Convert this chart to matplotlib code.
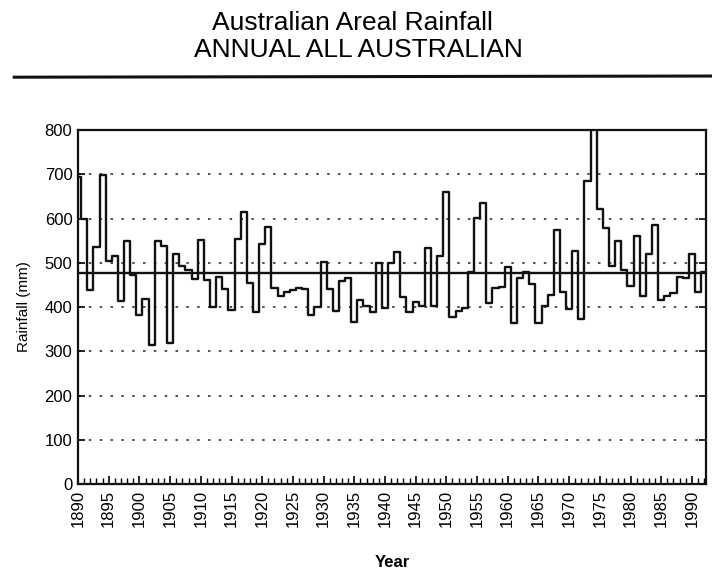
import numpy as np
import matplotlib
matplotlib.use("Agg")
import matplotlib.pyplot as plt
from matplotlib.ticker import MultipleLocator

plt.rcParams['font.family'] = ['Liberation Sans', 'DejaVu Sans']

# annual rainfall (mm)
years = np.arange(1890, 1993)
rain = [
    693, 600, 439, 536, 699, 504, 515, 413, 549, 472,   # 1890s
    383, 417, 314, 550, 538, 318, 519, 492, 484, 463,   # 1900s
    552, 462, 400, 468, 440, 394, 554, 614, 455, 388,   # 1910s
    543, 581, 442, 425, 435, 438, 444, 440, 383, 400,   # 1920s
    502, 440, 390, 458, 465, 367, 416, 403, 388, 500,   # 1930s
    398, 500, 524, 422, 388, 412, 403, 534, 402, 515,   # 1940s
    659, 378, 392, 398, 478, 602, 636, 410, 443, 446,   # 1950s
    491, 364, 466, 479, 451, 363, 403, 428, 575, 434,   # 1960s
    396, 526, 372, 684, 840, 622, 578, 492, 550, 484,   # 1970s
    448, 560, 424, 520, 586, 416, 425, 432, 468, 466,   # 1980s
    519, 434, 480,                                      # 1990s
]
mean_rain = 476

fig = plt.figure(figsize=(7.12, 5.76), dpi=100)
ax = fig.add_axes([0.1096, 0.1597, 0.8820, 0.6146])

# dotted grid lines every 100 mm
for v in range(100, 800, 100):
    ax.axhline(v, color='#333333', lw=1.2, ls=(0, (1.5, 5)), zorder=1)

ax.step(years, rain, where='mid', color='#111111', lw=1.7, zorder=3)
ax.axhline(mean_rain, color='#111111', lw=1.7, zorder=4)

ax.set_xlim(1890, 1992.3)
ax.set_ylim(0, 800)
ax.xaxis.set_major_locator(MultipleLocator(5))
ax.xaxis.set_minor_locator(MultipleLocator(1))
ax.yaxis.set_major_locator(MultipleLocator(100))
ax.tick_params(axis='x', which='major', direction='in', length=6, width=1.2,
               labelsize=12, rotation=90, pad=4)
ax.tick_params(axis='x', which='minor', direction='in', length=4, width=1.0)
ax.tick_params(axis='y', direction='in', length=5, width=1.2, labelsize=12,
               right=True, pad=4)
for s in ax.spines.values():
    s.set_linewidth(1.6)
    s.set_color('#111111')

ax.set_xlabel('Year', fontsize=12, fontweight='bold', labelpad=20)
ax.set_ylabel('Rainfall (mm)', fontsize=11, labelpad=10)

fig.text(0.495, 0.960, 'Australian Areal Rainfall', ha='center', va='center',
         fontsize=19)
fig.text(0.503, 0.913, 'ANNUAL ALL AUSTRALIAN', ha='center', va='center',
         fontsize=19)
fig.add_artist(plt.Line2D([0.02, 1.0], [0.866, 0.868], color='#111111',
                          lw=2.2, transform=fig.transFigure))

fig.savefig('out.png', dpi=100)
